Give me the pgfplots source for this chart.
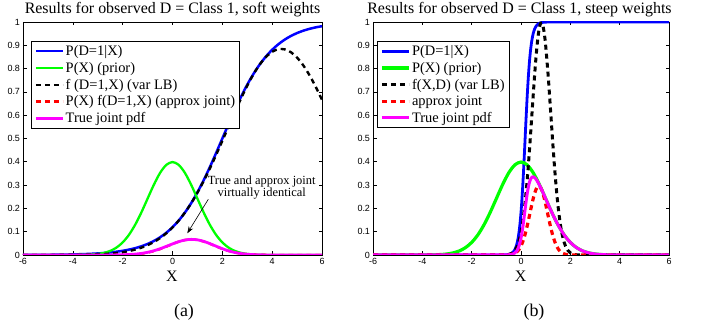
\documentclass[border=0pt]{standalone}
\usepackage{fontspec}
\setmainfont{Liberation Serif}
\setsansfont{Liberation Sans}
\usepackage{pgfplots}
\pgfplotsset{compat=1.18}
\usepackage{pgfplotstable}
\usetikzlibrary{arrows.meta}

\definecolor{mblue}{RGB}{0,0,255}
\definecolor{mgreen}{RGB}{0,255,0}
\definecolor{mred}{RGB}{255,0,0}
\definecolor{mmag}{RGB}{255,0,255}

\pgfplotstableread{
x blue black red mag green
-6 0.000335 0.0000102 0 0 0
-5.5 0.000553 0.0000299 0 0 0
-5 0.000911 0.0000827 0 0 0.0000015
-4.5 0.001501 0.000217 0 0 0.000016
-4 0.002473 0.00054 0.0000001 0.0000003 0.000134
-3.5 0.00407 0.001275 0.0000011 0.0000036 0.000873
-3.25 0.00522 0.001918 0.0000039 0.0000106 0.002029
-3 0.006693 0.002853 0.0000126 0.0000297 0.004432
-2.75 0.008577 0.004183 0.000038 0.000078 0.009094
-2.5 0.010987 0.006056 0.000106 0.000193 0.017528
-2.25 0.014064 0.008652 0.000275 0.000446 0.03174
-2 0.017986 0.01219 0.000658 0.000971 0.053991
-1.75 0.022977 0.01696 0.001463 0.001982 0.086277
-1.5 0.029312 0.02329 0.003017 0.003797 0.129518
-1.25 0.037327 0.03155 0.005763 0.006818 0.182649
-1 0.047426 0.04218 0.010206 0.011476 0.241971
-0.75 0.060087 0.05565 0.016759 0.018094 0.301137
-0.5 0.075858 0.07245 0.025507 0.026707 0.352065
-0.25 0.095349 0.0931 0.035999 0.036869 0.386668
0 0.119203 0.11805 0.047094 0.047555 0.398942
0.25 0.148047 0.14772 0.057119 0.057245 0.386668
0.5 0.182426 0.182426 0.064227 0.064227 0.352065
0.75 0.2227 0.22232 0.066949 0.067064 0.301137
1 0.268941 0.26738 0.064699 0.065076 0.241971
1.25 0.320821 0.31734 0.057962 0.058598 0.182649
1.5 0.377541 0.37168 0.04814 0.048899 0.129518
1.75 0.437823 0.42961 0.037065 0.037774 0.086277
2 0.5 0.49005 0.026458 0.026996 0.053991
2.25 0.562177 0.55164 0.017509 0.017844 0.03174
2.5 0.622459 0.6128 0.010741 0.01091 0.017528
2.75 0.679179 0.67181 0.006109 0.006176 0.009094
3 0.731059 0.72683 0.003221 0.00324 0.004432
3.25 0.7773 0.77599 0.001574 0.001577 0.002029
3.5 0.817574 0.81757 0.000714 0.000714 0.000873
3.75 0.851953 0.85008 0.0003 0.000301 0.000353
4 0.880797 0.87228 0.000117 0.000118 0.000134
4.25 0.904651 0.88328 0.000042 0.000043 0.0000477
4.5 0.924142 0.88266 0.000014 0.000015 0.000016
4.75 0.939913 0.87046 0 0 0
5 0.952574 0.84713 0 0 0
5.25 0.962673 0.81359 0 0 0
5.5 0.970688 0.77113 0 0 0
5.75 0.977023 0.72127 0 0 0
6 0.982014 0.66576 0 0 0
}\lefttab

\pgfplotstableread{
x blue black red mag
-6 0 0 0 0
-2 0 0 0 0
-1.5 0.0000003 0 0 0.0000001
-1 0.0000275 0.0000114 0.00001 0.0000067
-0.9 0.0000677 0.0000384 0.00002 0.000018
-0.8 0.0001666 0.000121 0.00004 0.000048
-0.7 0.00041 0.000354 0.00011 0.000128
-0.6 0.001007 0.000966 0.000322 0.000336
-0.5 0.002473 0.002471 0.00087 0.000871
-0.45 0.003873 0.003852 0.001389 0.001396
-0.4 0.00606 0.005906 0.002175 0.002232
-0.35 0.009475 0.008895 0.003339 0.003555
-0.3 0.014774 0.013184 0.005027 0.005635
-0.25 0.022977 0.019189 0.00742 0.008884
-0.2 0.035571 0.027468 0.010742 0.01391
-0.15 0.054681 0.038663 0.01525 0.021571
-0.1 0.083173 0.053476 0.021228 0.033016
-0.05 0.124553 0.072724 0.02898 0.049627
0 0.182426 0.097237 0.038794 0.072777
0.05 0.259225 0.127802 0.050925 0.103287
0.1 0.354344 0.165135 0.065557 0.140658
0.15 0.46257 0.209761 0.082756 0.182474
0.2 0.574443 0.261948 0.102442 0.224632
0.25 0.679179 0.321579 0.124352 0.262617
0.3 0.768525 0.388097 0.148027 0.293106
0.35 0.838891 0.460453 0.172794 0.314785
0.4 0.890903 0.537056 0.197795 0.328093
0.45 0.927573 0.615794 0.222027 0.334415
0.5 0.952574 0.69414 0.244398 0.335368
0.55 0.969231 0.76921 0.263809 0.332392
0.6 0.98016 0.83797 0.279246 0.326614
0.65 0.987248 0.89742 0.289858 0.318853
0.7 0.991837 0.944841 0.295043 0.309705
0.75 0.994779 0.977925 0.294503 0.299565
0.8 0.996665 0.995042 0.288266 0.288726
0.85 0.997867 0.995323 0.276695 0.277392
0.9 0.998641 0.978757 0.260441 0.265723
0.95 0.999134 0.94618 0.240395 0.253839
1 0.999447 0.899203 0.217589 0.241837
1.1 0.999775 0.77161 0.1681 0.217803
1.2 0.999909 0.61842 0.120092 0.194168
1.3 0.999963 0.46294 0.079334 0.171363
1.4 0.999985 0.32368 0.048464 0.149725
1.5 0.999994 0.21138 0.027377 0.129517
1.6 1 0.12893 0.014301 0.110921
1.7 1 0.07345 0.006908 0.094049
1.8 1 0.03908 0.003086 0.07895
1.9 1 0.01942 0.001275 0.065616
2 1 0.009016 0.000487 0.053991
2.1 1 0.003909 0.00017 0.043984
2.2 1 0.001583 0.000056 0.035475
2.3 1 0.0006 0.000017 0.028327
2.4 1 0.000212 0.000005 0.022395
2.5 1 0.00007 0 0.017528
2.6 1 0.00002 0 0.013583
2.8 1 0 0 0.007915
3 1 0 0 0.004432
3.25 1 0 0 0.002029
3.5 1 0 0 0.000873
4 1 0 0 0.000134
4.5 1 0 0 0.000016
5 1 0 0 0
6 1 0 0 0
}\righttab

\pgfplotsset{
  mystyle/.style={
    scale only axis, height=233bp,
    xmin=-6, xmax=6, ymin=0, ymax=1,
    xtick={-6,-4,-2,0,2,4,6},
    xticklabels={-6,-4,-2,0,2,4,6},
    ytick={0,0.1,0.2,0.3,0.4,0.5,0.6,0.7,0.8,0.9,1},
    yticklabels={0,0.1,0.2,0.3,0.4,0.5,0.6,0.7,0.8,0.9,1},
    tick label style={font=\fontsize{9}{10}\selectfont\sffamily},
    yticklabel style={xshift=0.5bp},
    major tick length=3.5bp,
    tick style={black, line width=0.6bp},
    axis line style={line width=0.8bp},
    legend cell align=left,
    legend image code/.code={\draw[##1] (0bp,0bp) -- (27bp,0bp);},
    legend style={anchor=north west, draw=black, line width=0.7bp, fill=white,
      font=\fontsize{14.5}{15}\selectfont, inner xsep=3bp, inner ysep=2.5bp, row sep=2.2bp,
      nodes={inner sep=1.5bp}},
    every axis plot/.append style={smooth},
  }
}

\begin{document}
\begin{tikzpicture}
\path[use as bounding box] (0,0) rectangle (706bp,332bp);

\begin{axis}[mystyle, width=299bp, at={(23bp,77bp)}, anchor=south west,
  legend style={at={(0.027,0.918)}}]
\addplot[mblue, line width=2.5bp] table[x=x,y=blue]{\lefttab};
\addlegendentry{P(D=1|X)}
\addplot[mgreen, line width=2.3bp] table[x=x,y=green]{\lefttab};
\addlegendentry{P(X) (prior)}
\addplot[black, line width=2.4bp, dash pattern=on 5bp off 4bp] table[x=x,y=black]{\lefttab};
\addlegendentry{f (D=1,X) (var LB)}
\addplot[mred, line width=2.4bp, dash pattern=on 5bp off 4bp] table[x=x,y=red]{\lefttab};
\addlegendentry{P(X) f(D=1,X) (approx joint)}
\addplot[mmag, line width=2.8bp] table[x=x,y=mag]{\lefttab};
\addlegendentry{True joint pdf}
\node[align=center, font=\fontsize{12.5}{12.5}\selectfont] at (axis cs:3.58,0.29) {True and approx joint\\virtually identical};
\draw[line width=0.6bp, -{Stealth[length=7bp,width=5bp]}] (axis cs:1.436,0.239) -- (axis cs:0.593,0.093);
\end{axis}

\begin{axis}[mystyle, width=296bp, at={(373bp,77bp)}, anchor=south west,
  legend style={at={(0.0135,0.918)}}]
\addplot[mblue, line width=2.8bp] table[x=x,y=blue]{\righttab};
\addlegendentry{P(D=1|X)}
\addplot[mgreen, line width=3.2bp] table[x=x,y=green]{\lefttab};
\addlegendentry{P(X) (prior)}
\addplot[black, line width=3bp, dash pattern=on 5bp off 4bp] table[x=x,y=black]{\righttab};
\addlegendentry{f(X,D) (var LB)}
\addplot[mred, line width=3.2bp, dash pattern=on 5bp off 4bp] table[x=x,y=red]{\righttab};
\addlegendentry{approx joint}
\addplot[mmag, line width=3bp] table[x=x,y=mag]{\righttab};
\addlegendentry{True joint pdf}
\end{axis}

\node[anchor=base, font=\fontsize{16}{16}\selectfont] at (172.5bp,318bp) {Results for observed D = Class 1, soft weights};
\node[anchor=base, font=\fontsize{16}{16}\selectfont] at (519.5bp,318bp) {Results for observed D = Class 1, steep weights};
\node[font=\fontsize{16}{16}\selectfont] at (172bp,56bp) {X};
\node[font=\fontsize{16}{16}\selectfont] at (520.5bp,56bp) {X};
\node[font=\fontsize{18}{18}\selectfont] at (184bp,19.5bp) {(a)};
\node[font=\fontsize{18}{18}\selectfont] at (534bp,19.5bp) {(b)};
\end{tikzpicture}
\end{document}
